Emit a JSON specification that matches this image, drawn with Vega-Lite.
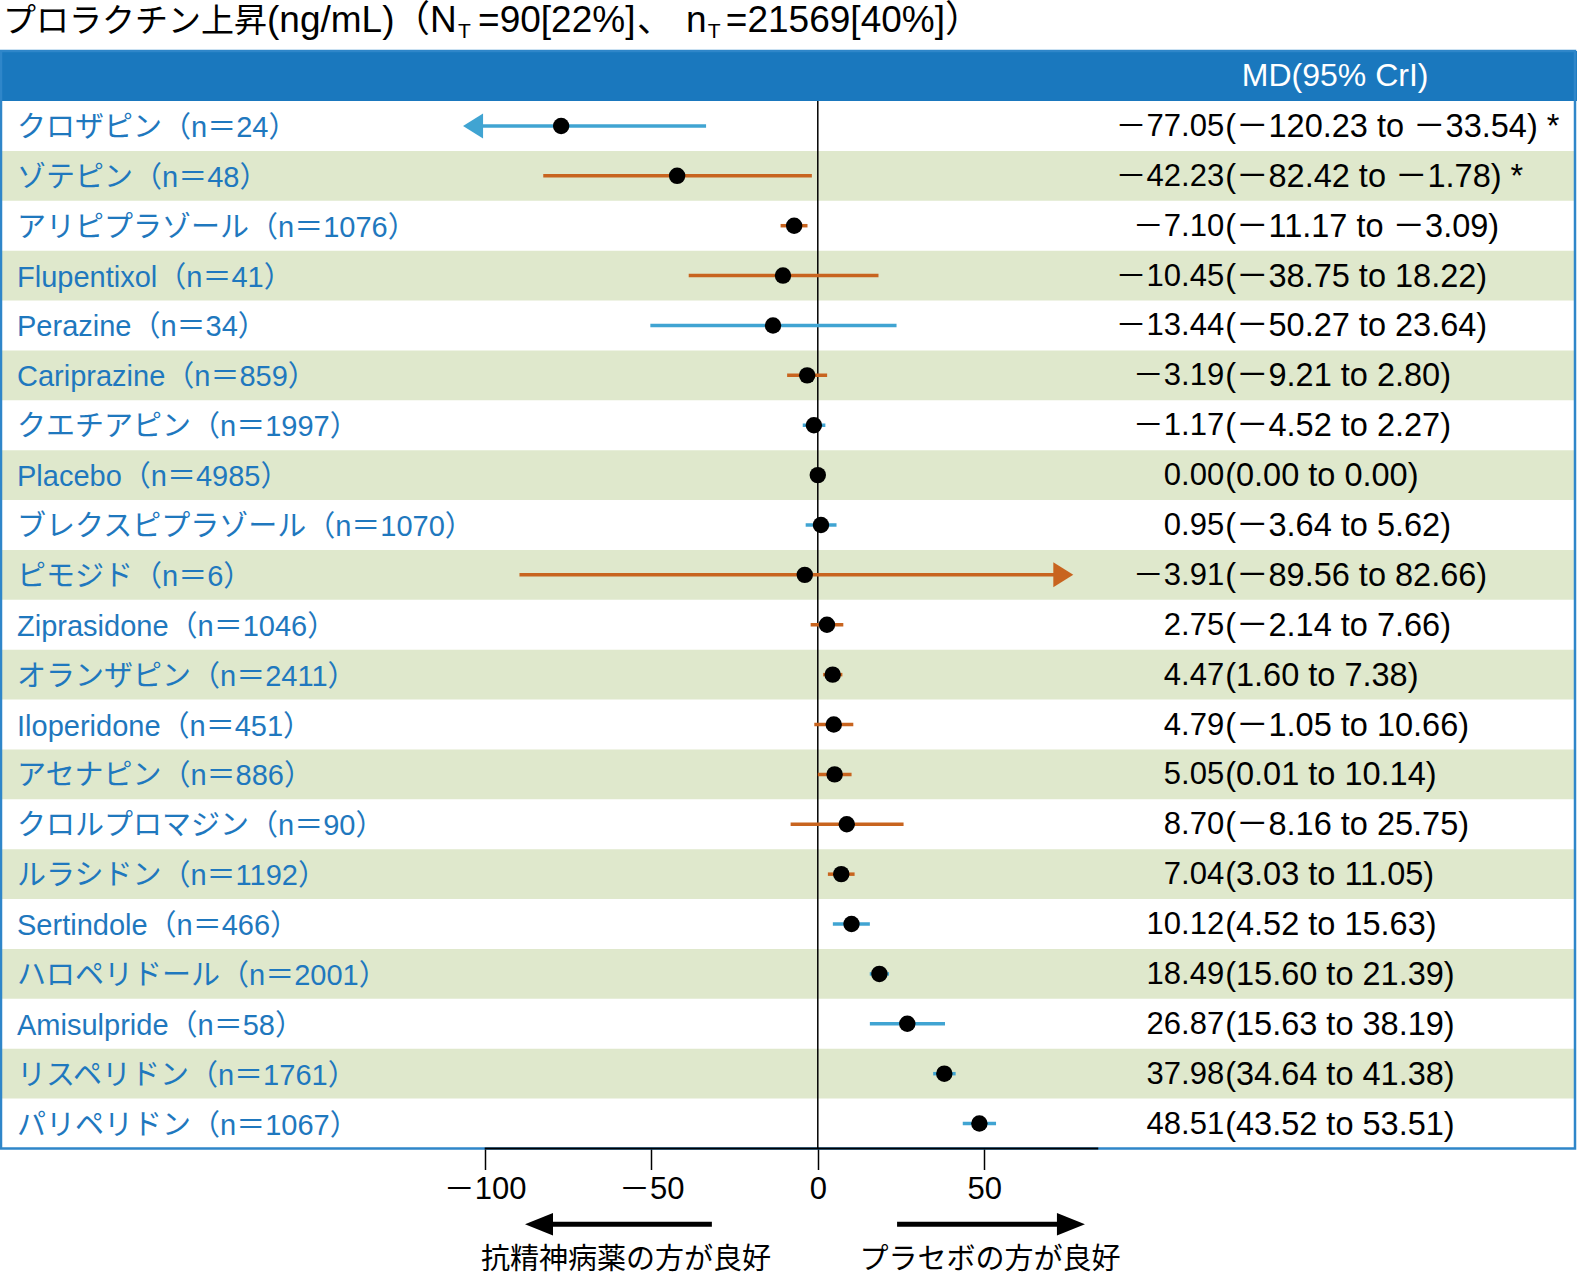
{
  "$schema": "https://vega.github.io/schema/vega-lite/v6.json",
  "autosize": {"type": "none"},
  "width": 1577,
  "height": 1047.5,
  "padding": {"left": 0, "top": 101, "right": 0, "bottom": 126.5},
  "background": "white",
  "config": {
    "view": {"stroke": null},
    "locale": {"number": {"decimal": ".", "thousands": ",", "grouping": [3], "currency": ["", ""], "minus": "－"}},
    "text": {"font": "Liberation Sans, Noto Sans CJK JP", "color": "black"}
  },
  "data": {"values": [
    {"drug": "クロザピン", "n": 24, "md": -77.05, "lo": -120.23, "hi": -33.54, "group": "a", "sig": true},
    {"drug": "ゾテピン", "n": 48, "md": -42.23, "lo": -82.42, "hi": -1.78, "group": "b", "sig": true},
    {"drug": "アリピプラゾール", "n": 1076, "md": -7.10, "lo": -11.17, "hi": -3.09, "group": "b", "sig": false},
    {"drug": "Flupentixol", "n": 41, "md": -10.45, "lo": -38.75, "hi": 18.22, "group": "b", "sig": false},
    {"drug": "Perazine", "n": 34, "md": -13.44, "lo": -50.27, "hi": 23.64, "group": "a", "sig": false},
    {"drug": "Cariprazine", "n": 859, "md": -3.19, "lo": -9.21, "hi": 2.80, "group": "b", "sig": false},
    {"drug": "クエチアピン", "n": 1997, "md": -1.17, "lo": -4.52, "hi": 2.27, "group": "a", "sig": false},
    {"drug": "Placebo", "n": 4985, "md": 0.00, "lo": 0.00, "hi": 0.00, "group": "a", "sig": false},
    {"drug": "ブレクスピプラゾール", "n": 1070, "md": 0.95, "lo": -3.64, "hi": 5.62, "group": "a", "sig": false},
    {"drug": "ピモジド", "n": 6, "md": -3.91, "lo": -89.56, "hi": 82.66, "group": "b", "sig": false},
    {"drug": "Ziprasidone", "n": 1046, "md": 2.75, "lo": -2.14, "hi": 7.66, "group": "b", "sig": false},
    {"drug": "オランザピン", "n": 2411, "md": 4.47, "lo": 1.60, "hi": 7.38, "group": "b", "sig": false},
    {"drug": "Iloperidone", "n": 451, "md": 4.79, "lo": -1.05, "hi": 10.66, "group": "b", "sig": false},
    {"drug": "アセナピン", "n": 886, "md": 5.05, "lo": 0.01, "hi": 10.14, "group": "b", "sig": false},
    {"drug": "クロルプロマジン", "n": 90, "md": 8.70, "lo": -8.16, "hi": 25.75, "group": "b", "sig": false},
    {"drug": "ルラシドン", "n": 1192, "md": 7.04, "lo": 3.03, "hi": 11.05, "group": "b", "sig": false},
    {"drug": "Sertindole", "n": 466, "md": 10.12, "lo": 4.52, "hi": 15.63, "group": "a", "sig": false},
    {"drug": "ハロペリドール", "n": 2001, "md": 18.49, "lo": 15.60, "hi": 21.39, "group": "a", "sig": false},
    {"drug": "Amisulpride", "n": 58, "md": 26.87, "lo": 15.63, "hi": 38.19, "group": "a", "sig": false},
    {"drug": "リスペリドン", "n": 1761, "md": 37.98, "lo": 34.64, "hi": 41.38, "group": "a", "sig": false},
    {"drug": "パリペリドン", "n": 1067, "md": 48.51, "lo": 43.52, "hi": 53.51, "group": "a", "sig": false}
  ]},
  "transform": [
    {"window": [{"op": "row_number", "as": "idx"}]},
    {"calculate": "datum.idx - 0.5", "as": "y0"},
    {"calculate": "datum.idx + 0.5", "as": "y1"},
    {"calculate": "max(datum.lo, -103.5)", "as": "lo_c"},
    {"calculate": "min(datum.hi, 73.7)", "as": "hi_c"},
    {"calculate": "datum.drug + '（n＝' + datum.n + '）'", "as": "label"},
    {"calculate": "'(' + format(datum.lo, '.2f') + ' to ' + format(datum.hi, '.2f') + ')' + (datum.sig ? ' *' : '')", "as": "ci"}
  ],
  "layer": [
    {
      "data": {"values": [{}]},
      "mark": {"type": "rect", "color": "#1a78be"},
      "encoding": {
        "x": {"datum": -245.51, "type": "quantitative", "scale": {"domain": [-245.51, 227.92], "nice": false, "zero": false}, "axis": {"values": [-100, -50, 0, 50], "domain": false, "grid": false, "ticks": true, "tickSize": 21, "tickWidth": 1.5, "tickColor": "black", "labelFontSize": 31, "labelFont": "Liberation Sans, Noto Sans CJK JP", "labelColor": "black", "labelPadding": 5, "title": null, "labelFlush": false, "labelOverlap": false}},
        "x2": {"datum": 227.92},
        "y": {"datum": -0.5, "type": "quantitative", "scale": {"domain": [0.5, 21.5], "reverse": true, "nice": false, "zero": false}, "axis": null},
        "y2": {"datum": 0.5}
      }
    },
    {
      "transform": [{"filter": "datum.idx % 2 == 0"}],
      "mark": {"type": "rect", "color": "#dfe8cc"},
      "encoding": {
        "x": {"datum": -245.2, "type": "quantitative", "scale": {"domain": [-245.51, 227.92], "nice": false, "zero": false}, "axis": {"values": [-100, -50, 0, 50], "domain": false, "grid": false, "ticks": true, "tickSize": 21, "tickWidth": 1.5, "tickColor": "black", "labelFontSize": 31, "labelFont": "Liberation Sans, Noto Sans CJK JP", "labelColor": "black", "labelPadding": 5, "title": null, "labelFlush": false, "labelOverlap": false}},
        "x2": {"datum": 227.3},
        "y": {"field": "y0", "type": "quantitative", "scale": {"domain": [0.5, 21.5], "reverse": true, "nice": false, "zero": false}, "axis": null},
        "y2": {"field": "y1"}
      }
    },
    {
      "data": {"values": [{}]},
      "mark": {"type": "rect", "filled": false, "color": "#2f86c9", "strokeWidth": 2.5},
      "encoding": {
        "x": {"datum": -245.21, "type": "quantitative", "scale": {"domain": [-245.51, 227.92], "nice": false, "zero": false}, "axis": {"values": [-100, -50, 0, 50], "domain": false, "grid": false, "ticks": true, "tickSize": 21, "tickWidth": 1.5, "tickColor": "black", "labelFontSize": 31, "labelFont": "Liberation Sans, Noto Sans CJK JP", "labelColor": "black", "labelPadding": 5, "title": null, "labelFlush": false, "labelOverlap": false}},
        "x2": {"datum": 227.32},
        "y": {"datum": -0.5, "type": "quantitative", "scale": {"domain": [0.5, 21.5], "reverse": true, "nice": false, "zero": false}, "axis": null},
        "y2": {"datum": 21.5}
      }
    },
    {
      "data": {"values": [{}]},
      "mark": {"type": "rule", "color": "black", "strokeWidth": 1.5},
      "encoding": {
        "x": {"datum": 0, "type": "quantitative", "scale": {"domain": [-245.51, 227.92], "nice": false, "zero": false}, "axis": {"values": [-100, -50, 0, 50], "domain": false, "grid": false, "ticks": true, "tickSize": 21, "tickWidth": 1.5, "tickColor": "black", "labelFontSize": 31, "labelFont": "Liberation Sans, Noto Sans CJK JP", "labelColor": "black", "labelPadding": 5, "title": null, "labelFlush": false, "labelOverlap": false}},
        "y": {"datum": 0.5, "type": "quantitative", "scale": {"domain": [0.5, 21.5], "reverse": true, "nice": false, "zero": false}, "axis": null},
        "y2": {"datum": 21.5}
      }
    },
    {
      "data": {"values": [{}]},
      "mark": {"type": "rule", "color": "black", "strokeWidth": 2},
      "encoding": {
        "x": {"datum": -100, "type": "quantitative", "scale": {"domain": [-245.51, 227.92], "nice": false, "zero": false}, "axis": {"values": [-100, -50, 0, 50], "domain": false, "grid": false, "ticks": true, "tickSize": 21, "tickWidth": 1.5, "tickColor": "black", "labelFontSize": 31, "labelFont": "Liberation Sans, Noto Sans CJK JP", "labelColor": "black", "labelPadding": 5, "title": null, "labelFlush": false, "labelOverlap": false}},
        "x2": {"datum": 84.2},
        "y": {"datum": 21.5, "type": "quantitative", "scale": {"domain": [0.5, 21.5], "reverse": true, "nice": false, "zero": false}, "axis": null}
      }
    },
    {
      "mark": {"type": "rule", "strokeWidth": 3.5},
      "encoding": {
        "x": {"field": "lo_c", "type": "quantitative", "scale": {"domain": [-245.51, 227.92], "nice": false, "zero": false}, "axis": {"values": [-100, -50, 0, 50], "domain": false, "grid": false, "ticks": true, "tickSize": 21, "tickWidth": 1.5, "tickColor": "black", "labelFontSize": 31, "labelFont": "Liberation Sans, Noto Sans CJK JP", "labelColor": "black", "labelPadding": 5, "title": null, "labelFlush": false, "labelOverlap": false}},
        "x2": {"field": "hi_c"},
        "y": {"field": "idx", "type": "quantitative", "scale": {"domain": [0.5, 21.5], "reverse": true, "nice": false, "zero": false}, "axis": null},
        "color": {"field": "group", "type": "nominal", "scale": {"domain": ["a", "b"], "range": ["#40a4d2", "#c8641f"]}, "legend": null}
      }
    },
    {
      "transform": [{"filter": "datum.lo < -103.5"}],
      "mark": {"type": "point", "shape": "M1,-1.25L-1,0L1,1.25Z", "filled": true, "size": 400, "opacity": 1},
      "encoding": {
        "x": {"datum": -103.5, "type": "quantitative", "scale": {"domain": [-245.51, 227.92], "nice": false, "zero": false}, "axis": {"values": [-100, -50, 0, 50], "domain": false, "grid": false, "ticks": true, "tickSize": 21, "tickWidth": 1.5, "tickColor": "black", "labelFontSize": 31, "labelFont": "Liberation Sans, Noto Sans CJK JP", "labelColor": "black", "labelPadding": 5, "title": null, "labelFlush": false, "labelOverlap": false}},
        "y": {"field": "idx", "type": "quantitative", "scale": {"domain": [0.5, 21.5], "reverse": true, "nice": false, "zero": false}, "axis": null},
        "color": {"field": "group", "type": "nominal", "scale": {"domain": ["a", "b"], "range": ["#40a4d2", "#c8641f"]}, "legend": null}
      }
    },
    {
      "transform": [{"filter": "datum.hi > 73.7"}],
      "mark": {"type": "point", "shape": "M-1,-1.25L1,0L-1,1.25Z", "filled": true, "size": 400, "opacity": 1},
      "encoding": {
        "x": {"datum": 73.7, "type": "quantitative", "scale": {"domain": [-245.51, 227.92], "nice": false, "zero": false}, "axis": {"values": [-100, -50, 0, 50], "domain": false, "grid": false, "ticks": true, "tickSize": 21, "tickWidth": 1.5, "tickColor": "black", "labelFontSize": 31, "labelFont": "Liberation Sans, Noto Sans CJK JP", "labelColor": "black", "labelPadding": 5, "title": null, "labelFlush": false, "labelOverlap": false}},
        "y": {"field": "idx", "type": "quantitative", "scale": {"domain": [0.5, 21.5], "reverse": true, "nice": false, "zero": false}, "axis": null},
        "color": {"field": "group", "type": "nominal", "scale": {"domain": ["a", "b"], "range": ["#40a4d2", "#c8641f"]}, "legend": null}
      }
    },
    {
      "mark": {"type": "circle", "size": 270, "color": "black", "opacity": 1},
      "encoding": {
        "x": {"field": "md", "type": "quantitative", "scale": {"domain": [-245.51, 227.92], "nice": false, "zero": false}, "axis": {"values": [-100, -50, 0, 50], "domain": false, "grid": false, "ticks": true, "tickSize": 21, "tickWidth": 1.5, "tickColor": "black", "labelFontSize": 31, "labelFont": "Liberation Sans, Noto Sans CJK JP", "labelColor": "black", "labelPadding": 5, "title": null, "labelFlush": false, "labelOverlap": false}},
        "y": {"field": "idx", "type": "quantitative", "scale": {"domain": [0.5, 21.5], "reverse": true, "nice": false, "zero": false}, "axis": null}
      }
    },
    {
      "mark": {"type": "text", "align": "left", "baseline": "middle", "fontSize": 29, "dy": 2, "color": "#1f78be"},
      "encoding": {
        "x": {"datum": -240.4, "type": "quantitative", "scale": {"domain": [-245.51, 227.92], "nice": false, "zero": false}, "axis": {"values": [-100, -50, 0, 50], "domain": false, "grid": false, "ticks": true, "tickSize": 21, "tickWidth": 1.5, "tickColor": "black", "labelFontSize": 31, "labelFont": "Liberation Sans, Noto Sans CJK JP", "labelColor": "black", "labelPadding": 5, "title": null, "labelFlush": false, "labelOverlap": false}},
        "y": {"field": "idx", "type": "quantitative", "scale": {"domain": [0.5, 21.5], "reverse": true, "nice": false, "zero": false}, "axis": null},
        "text": {"field": "label", "type": "nominal"}
      }
    },
    {
      "mark": {"type": "text", "align": "right", "baseline": "middle", "fontSize": 31, "dy": 1},
      "encoding": {
        "x": {"datum": 122.0, "type": "quantitative", "scale": {"domain": [-245.51, 227.92], "nice": false, "zero": false}, "axis": {"values": [-100, -50, 0, 50], "domain": false, "grid": false, "ticks": true, "tickSize": 21, "tickWidth": 1.5, "tickColor": "black", "labelFontSize": 31, "labelFont": "Liberation Sans, Noto Sans CJK JP", "labelColor": "black", "labelPadding": 5, "title": null, "labelFlush": false, "labelOverlap": false}},
        "y": {"field": "idx", "type": "quantitative", "scale": {"domain": [0.5, 21.5], "reverse": true, "nice": false, "zero": false}, "axis": null},
        "text": {"field": "md", "type": "quantitative", "format": ".2f"}
      }
    },
    {
      "mark": {"type": "text", "align": "left", "baseline": "middle", "fontSize": 32.5, "dy": 1},
      "encoding": {
        "x": {"datum": 122.3, "type": "quantitative", "scale": {"domain": [-245.51, 227.92], "nice": false, "zero": false}, "axis": {"values": [-100, -50, 0, 50], "domain": false, "grid": false, "ticks": true, "tickSize": 21, "tickWidth": 1.5, "tickColor": "black", "labelFontSize": 31, "labelFont": "Liberation Sans, Noto Sans CJK JP", "labelColor": "black", "labelPadding": 5, "title": null, "labelFlush": false, "labelOverlap": false}},
        "y": {"field": "idx", "type": "quantitative", "scale": {"domain": [0.5, 21.5], "reverse": true, "nice": false, "zero": false}, "axis": null},
        "text": {"field": "ci", "type": "nominal"}
      }
    },
    {
      "data": {"values": [{}]},
      "mark": {"type": "text", "align": "center", "baseline": "middle", "fontSize": 32, "color": "white", "text": "MD(95% CrI)"},
      "encoding": {
        "x": {"datum": 155.3, "type": "quantitative", "scale": {"domain": [-245.51, 227.92], "nice": false, "zero": false}, "axis": {"values": [-100, -50, 0, 50], "domain": false, "grid": false, "ticks": true, "tickSize": 21, "tickWidth": 1.5, "tickColor": "black", "labelFontSize": 31, "labelFont": "Liberation Sans, Noto Sans CJK JP", "labelColor": "black", "labelPadding": 5, "title": null, "labelFlush": false, "labelOverlap": false}},
        "y": {"datum": 0, "type": "quantitative", "scale": {"domain": [0.5, 21.5], "reverse": true, "nice": false, "zero": false}, "axis": null}
      }
    },
    {
      "data": {"values": [{}]},
      "mark": {"type": "text", "align": "left", "baseline": "alphabetic", "fontSize": 33, "text": "プロラクチン上昇"},
      "encoding": {
        "x": {"datum": -244.6, "type": "quantitative", "scale": {"domain": [-245.51, 227.92], "nice": false, "zero": false}, "axis": {"values": [-100, -50, 0, 50], "domain": false, "grid": false, "ticks": true, "tickSize": 21, "tickWidth": 1.5, "tickColor": "black", "labelFontSize": 31, "labelFont": "Liberation Sans, Noto Sans CJK JP", "labelColor": "black", "labelPadding": 5, "title": null, "labelFlush": false, "labelOverlap": false}},
        "y": {"datum": -0.88, "type": "quantitative", "scale": {"domain": [0.5, 21.5], "reverse": true, "nice": false, "zero": false}, "axis": null}
      }
    },
    {
      "data": {"values": [{}]},
      "mark": {"type": "text", "align": "left", "baseline": "alphabetic", "fontSize": 37, "text": "(ng/mL)"},
      "encoding": {
        "x": {"datum": -165.35, "type": "quantitative", "scale": {"domain": [-245.51, 227.92], "nice": false, "zero": false}, "axis": {"values": [-100, -50, 0, 50], "domain": false, "grid": false, "ticks": true, "tickSize": 21, "tickWidth": 1.5, "tickColor": "black", "labelFontSize": 31, "labelFont": "Liberation Sans, Noto Sans CJK JP", "labelColor": "black", "labelPadding": 5, "title": null, "labelFlush": false, "labelOverlap": false}},
        "y": {"datum": -0.88, "type": "quantitative", "scale": {"domain": [0.5, 21.5], "reverse": true, "nice": false, "zero": false}, "axis": null}
      }
    },
    {
      "data": {"values": [{}]},
      "mark": {"type": "text", "align": "left", "baseline": "alphabetic", "fontSize": 37, "text": "（N"},
      "encoding": {
        "x": {"datum": -127.5, "type": "quantitative", "scale": {"domain": [-245.51, 227.92], "nice": false, "zero": false}, "axis": {"values": [-100, -50, 0, 50], "domain": false, "grid": false, "ticks": true, "tickSize": 21, "tickWidth": 1.5, "tickColor": "black", "labelFontSize": 31, "labelFont": "Liberation Sans, Noto Sans CJK JP", "labelColor": "black", "labelPadding": 5, "title": null, "labelFlush": false, "labelOverlap": false}},
        "y": {"datum": -0.88, "type": "quantitative", "scale": {"domain": [0.5, 21.5], "reverse": true, "nice": false, "zero": false}, "axis": null}
      }
    },
    {
      "data": {"values": [{}]},
      "mark": {"type": "text", "align": "left", "baseline": "alphabetic", "fontSize": 21, "text": "T"},
      "encoding": {
        "x": {"datum": -108.0, "type": "quantitative", "scale": {"domain": [-245.51, 227.92], "nice": false, "zero": false}, "axis": {"values": [-100, -50, 0, 50], "domain": false, "grid": false, "ticks": true, "tickSize": 21, "tickWidth": 1.5, "tickColor": "black", "labelFontSize": 31, "labelFont": "Liberation Sans, Noto Sans CJK JP", "labelColor": "black", "labelPadding": 5, "title": null, "labelFlush": false, "labelOverlap": false}},
        "y": {"datum": -0.77, "type": "quantitative", "scale": {"domain": [0.5, 21.5], "reverse": true, "nice": false, "zero": false}, "axis": null}
      }
    },
    {
      "data": {"values": [{}]},
      "mark": {"type": "text", "align": "left", "baseline": "alphabetic", "fontSize": 37, "text": "=90[22%]"},
      "encoding": {
        "x": {"datum": -102.0, "type": "quantitative", "scale": {"domain": [-245.51, 227.92], "nice": false, "zero": false}, "axis": {"values": [-100, -50, 0, 50], "domain": false, "grid": false, "ticks": true, "tickSize": 21, "tickWidth": 1.5, "tickColor": "black", "labelFontSize": 31, "labelFont": "Liberation Sans, Noto Sans CJK JP", "labelColor": "black", "labelPadding": 5, "title": null, "labelFlush": false, "labelOverlap": false}},
        "y": {"datum": -0.88, "type": "quantitative", "scale": {"domain": [0.5, 21.5], "reverse": true, "nice": false, "zero": false}, "axis": null}
      }
    },
    {
      "data": {"values": [{}]},
      "mark": {"type": "text", "align": "left", "baseline": "alphabetic", "fontSize": 35, "text": "、"},
      "encoding": {
        "x": {"datum": -54.3, "type": "quantitative", "scale": {"domain": [-245.51, 227.92], "nice": false, "zero": false}, "axis": {"values": [-100, -50, 0, 50], "domain": false, "grid": false, "ticks": true, "tickSize": 21, "tickWidth": 1.5, "tickColor": "black", "labelFontSize": 31, "labelFont": "Liberation Sans, Noto Sans CJK JP", "labelColor": "black", "labelPadding": 5, "title": null, "labelFlush": false, "labelOverlap": false}},
        "y": {"datum": -0.88, "type": "quantitative", "scale": {"domain": [0.5, 21.5], "reverse": true, "nice": false, "zero": false}, "axis": null}
      }
    },
    {
      "data": {"values": [{}]},
      "mark": {"type": "text", "align": "left", "baseline": "alphabetic", "fontSize": 37, "text": "n"},
      "encoding": {
        "x": {"datum": -39.6, "type": "quantitative", "scale": {"domain": [-245.51, 227.92], "nice": false, "zero": false}, "axis": {"values": [-100, -50, 0, 50], "domain": false, "grid": false, "ticks": true, "tickSize": 21, "tickWidth": 1.5, "tickColor": "black", "labelFontSize": 31, "labelFont": "Liberation Sans, Noto Sans CJK JP", "labelColor": "black", "labelPadding": 5, "title": null, "labelFlush": false, "labelOverlap": false}},
        "y": {"datum": -0.88, "type": "quantitative", "scale": {"domain": [0.5, 21.5], "reverse": true, "nice": false, "zero": false}, "axis": null}
      }
    },
    {
      "data": {"values": [{}]},
      "mark": {"type": "text", "align": "left", "baseline": "alphabetic", "fontSize": 21, "text": "T"},
      "encoding": {
        "x": {"datum": -33.0, "type": "quantitative", "scale": {"domain": [-245.51, 227.92], "nice": false, "zero": false}, "axis": {"values": [-100, -50, 0, 50], "domain": false, "grid": false, "ticks": true, "tickSize": 21, "tickWidth": 1.5, "tickColor": "black", "labelFontSize": 31, "labelFont": "Liberation Sans, Noto Sans CJK JP", "labelColor": "black", "labelPadding": 5, "title": null, "labelFlush": false, "labelOverlap": false}},
        "y": {"datum": -0.77, "type": "quantitative", "scale": {"domain": [0.5, 21.5], "reverse": true, "nice": false, "zero": false}, "axis": null}
      }
    },
    {
      "data": {"values": [{}]},
      "mark": {"type": "text", "align": "left", "baseline": "alphabetic", "fontSize": 37, "text": "=21569[40%]）"},
      "encoding": {
        "x": {"datum": -27.6, "type": "quantitative", "scale": {"domain": [-245.51, 227.92], "nice": false, "zero": false}, "axis": {"values": [-100, -50, 0, 50], "domain": false, "grid": false, "ticks": true, "tickSize": 21, "tickWidth": 1.5, "tickColor": "black", "labelFontSize": 31, "labelFont": "Liberation Sans, Noto Sans CJK JP", "labelColor": "black", "labelPadding": 5, "title": null, "labelFlush": false, "labelOverlap": false}},
        "y": {"datum": -0.88, "type": "quantitative", "scale": {"domain": [0.5, 21.5], "reverse": true, "nice": false, "zero": false}, "axis": null}
      }
    },
    {
      "data": {"values": [{}]},
      "mark": {"type": "rule", "color": "black", "strokeWidth": 5},
      "encoding": {
        "x": {"datum": -83.7, "type": "quantitative", "scale": {"domain": [-245.51, 227.92], "nice": false, "zero": false}, "axis": {"values": [-100, -50, 0, 50], "domain": false, "grid": false, "ticks": true, "tickSize": 21, "tickWidth": 1.5, "tickColor": "black", "labelFontSize": 31, "labelFont": "Liberation Sans, Noto Sans CJK JP", "labelColor": "black", "labelPadding": 5, "title": null, "labelFlush": false, "labelOverlap": false}},
        "x2": {"datum": -31.8},
        "y": {"datum": 23.02, "type": "quantitative", "scale": {"domain": [0.5, 21.5], "reverse": true, "nice": false, "zero": false}, "axis": null}
      }
    },
    {
      "data": {"values": [{}]},
      "mark": {"type": "rule", "color": "black", "strokeWidth": 5},
      "encoding": {
        "x": {"datum": 23.8, "type": "quantitative", "scale": {"domain": [-245.51, 227.92], "nice": false, "zero": false}, "axis": {"values": [-100, -50, 0, 50], "domain": false, "grid": false, "ticks": true, "tickSize": 21, "tickWidth": 1.5, "tickColor": "black", "labelFontSize": 31, "labelFont": "Liberation Sans, Noto Sans CJK JP", "labelColor": "black", "labelPadding": 5, "title": null, "labelFlush": false, "labelOverlap": false}},
        "x2": {"datum": 76.0},
        "y": {"datum": 23.02, "type": "quantitative", "scale": {"domain": [0.5, 21.5], "reverse": true, "nice": false, "zero": false}, "axis": null}
      }
    },
    {
      "data": {"values": [{}]},
      "mark": {"type": "point", "shape": "M1,-0.8L-1,0L1,0.8Z", "filled": true, "size": 784, "opacity": 1, "color": "black"},
      "encoding": {
        "x": {"datum": -83.7, "type": "quantitative", "scale": {"domain": [-245.51, 227.92], "nice": false, "zero": false}, "axis": {"values": [-100, -50, 0, 50], "domain": false, "grid": false, "ticks": true, "tickSize": 21, "tickWidth": 1.5, "tickColor": "black", "labelFontSize": 31, "labelFont": "Liberation Sans, Noto Sans CJK JP", "labelColor": "black", "labelPadding": 5, "title": null, "labelFlush": false, "labelOverlap": false}},
        "y": {"datum": 23.02, "type": "quantitative", "scale": {"domain": [0.5, 21.5], "reverse": true, "nice": false, "zero": false}, "axis": null}
      }
    },
    {
      "data": {"values": [{}]},
      "mark": {"type": "point", "shape": "M-1,-0.8L1,0L-1,0.8Z", "filled": true, "size": 784, "opacity": 1, "color": "black"},
      "encoding": {
        "x": {"datum": 76.0, "type": "quantitative", "scale": {"domain": [-245.51, 227.92], "nice": false, "zero": false}, "axis": {"values": [-100, -50, 0, 50], "domain": false, "grid": false, "ticks": true, "tickSize": 21, "tickWidth": 1.5, "tickColor": "black", "labelFontSize": 31, "labelFont": "Liberation Sans, Noto Sans CJK JP", "labelColor": "black", "labelPadding": 5, "title": null, "labelFlush": false, "labelOverlap": false}},
        "y": {"datum": 23.02, "type": "quantitative", "scale": {"domain": [0.5, 21.5], "reverse": true, "nice": false, "zero": false}, "axis": null}
      }
    },
    {
      "data": {"values": [{}]},
      "mark": {"type": "text", "align": "center", "baseline": "middle", "fontSize": 29, "text": "抗精神病薬の方が良好"},
      "encoding": {
        "x": {"datum": -57.6, "type": "quantitative", "scale": {"domain": [-245.51, 227.92], "nice": false, "zero": false}, "axis": {"values": [-100, -50, 0, 50], "domain": false, "grid": false, "ticks": true, "tickSize": 21, "tickWidth": 1.5, "tickColor": "black", "labelFontSize": 31, "labelFont": "Liberation Sans, Noto Sans CJK JP", "labelColor": "black", "labelPadding": 5, "title": null, "labelFlush": false, "labelOverlap": false}},
        "y": {"datum": 23.73, "type": "quantitative", "scale": {"domain": [0.5, 21.5], "reverse": true, "nice": false, "zero": false}, "axis": null}
      }
    },
    {
      "data": {"values": [{}]},
      "mark": {"type": "text", "align": "center", "baseline": "middle", "fontSize": 29, "text": "プラセボの方が良好"},
      "encoding": {
        "x": {"datum": 51.7, "type": "quantitative", "scale": {"domain": [-245.51, 227.92], "nice": false, "zero": false}, "axis": {"values": [-100, -50, 0, 50], "domain": false, "grid": false, "ticks": true, "tickSize": 21, "tickWidth": 1.5, "tickColor": "black", "labelFontSize": 31, "labelFont": "Liberation Sans, Noto Sans CJK JP", "labelColor": "black", "labelPadding": 5, "title": null, "labelFlush": false, "labelOverlap": false}},
        "y": {"datum": 23.73, "type": "quantitative", "scale": {"domain": [0.5, 21.5], "reverse": true, "nice": false, "zero": false}, "axis": null}
      }
    }
  ]
}
